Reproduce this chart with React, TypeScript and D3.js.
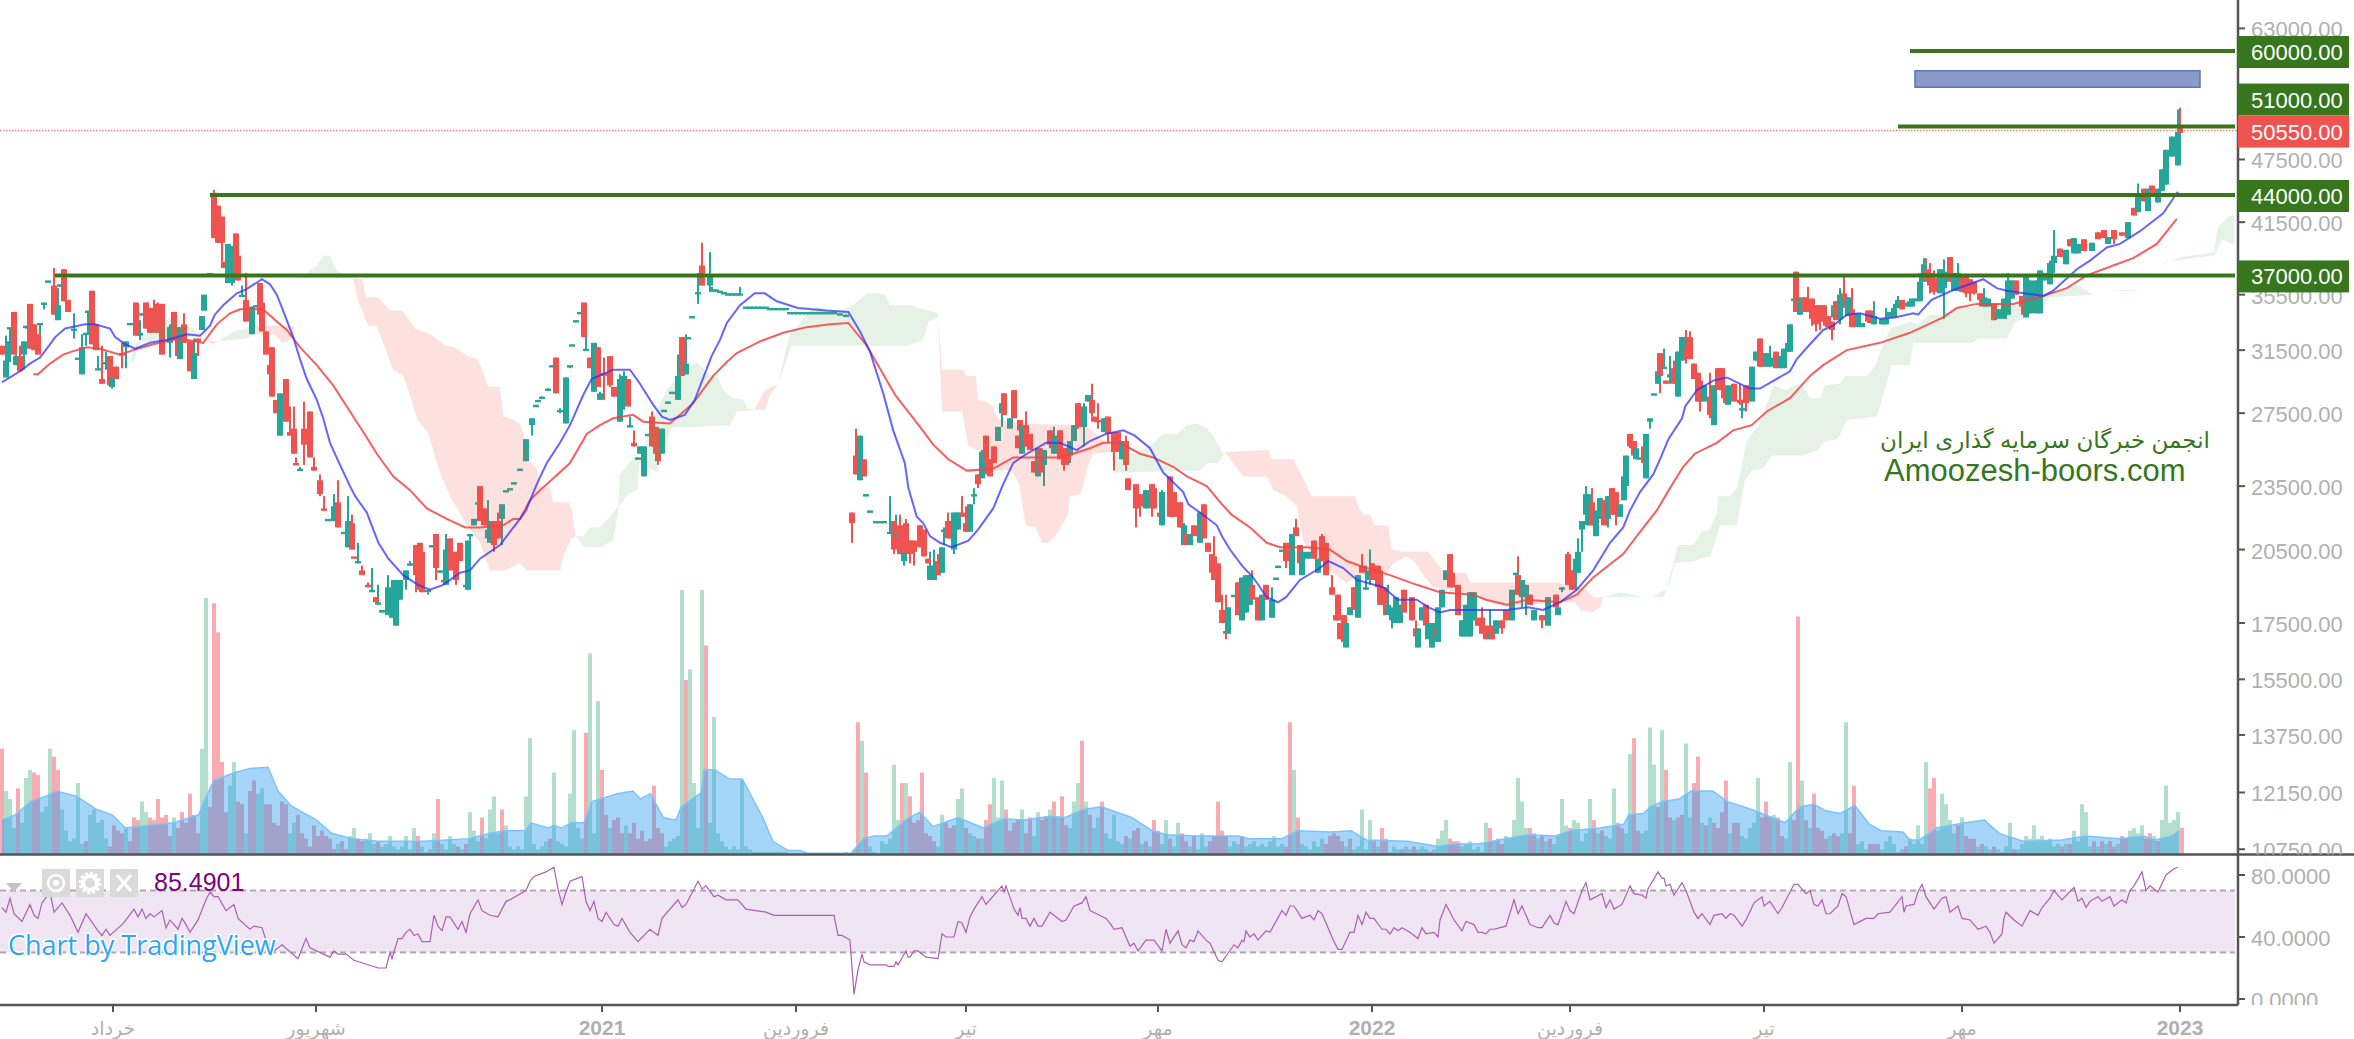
import React, { useEffect, useRef } from 'react';
import * as d3 from 'd3';

// prices below are in hundreds, every five numbers are: bar, open, high, low, close
const candlesSpring = [
  0,318,318,312,312, 1,297,325,297,308, 1.5,307,321,307,321, 2,330,331,320,331, 3,342,342,312,312, 3.5,305,312,305,311,
  4.5,311,318,301,301, 5.5,312,321,302,321, 6,331,332,330,332, 7,348,348,316,316, 8,333,333,315,315, 9,326,326,312,312,
  9.5,333,334,326,334, 10.5,348,349,344,349, 11.5,365,366,365,366, 13,362,376,340,340, 14,336,360,336,347, 14.5,362,363,361,363,
  15.5,375,375,350,350, 16.5,351,351,342,342, 18,329,341,323,330, 19,309,309,309,310, 20,299,326,299,317, 21,326,327,318,327,
  21.5,342,343,326,343, 22.5,358,358,319,319, 23.5,333,333,315,315, 24,302,311,302,303, 25,296,318,293,293, 26,306,314,302,307,
  27,311,311,292,292, 27.5,291,298,290,297, 28.5,304,304,296,296, 30,313,320,303,312, 31,317,321,303,321, 32,333,334,333,334,
  33.5,349,349,325,325, 34.5,325,336,322,327, 35,340,341,340,341, 36,349,349,330,330, 37,345,345,327,327, 38,345,351,327,335,
  39,348,349,327,327, 40,348,348,312,312, 42,320,333,310,331, 43,342,342,322,322, 44,331,331,311,311, 44.5,309,331,309,331,
  45.5,333,341,320,320, 47,321,321,301,301, 48,296,323,296,313, 49,323,323,311,321, 50,329,339,329,339, 50.5,343,355,343,355,
  52,371,372,371,372, 53,442,445,401,401, 54,430,430,397,397, 55,420,420,381,397, 55.5,381,381,376,376, 56.5,364,396,364,396,
  57.5,364,394,362,394, 58.5,405,405,371,371, 59,386,386,366,366, 60,354,362,354,355, 61,351,372,335,335, 62.5,326,346,326,346,
  63.5,346,347,346,347, 64.5,364,364,340,340, 65,349,349,328,328, 66,328,328,312,312, 67,305,305,299,299, 67.5,317,317,285,285,
  68.5,283,283,275,275, 69.5,262,287,262,287, 71,296,296,270,270, 72,264,279,262,262, 73,266,279,252,252, 73.5,247,250,246,246,
  74.5,243,245,243,244, 75.5,266,282,246,257, 77,276,276,250,250, 78,245,250,243,243, 79.5,238,241,230,231, 80.5,224,230,223,223,
];
const candlesSummer = [
  81.5,218,218,218,219, 83,218,231,218,225, 84,227,238,215,215, 85.5,212,212,212,213, 86.5,206,230,206,218, 87.5,217,221,205,205,
  88,202,202,202,201, 89,199,208,199,200, 90,196,198,194,194, 91.5,190,191,189,189, 92.5,187,197,187,188, 93.5,185,185,183,183,
  94,182,190,182,183, 95,179,180,179,180, 96.5,178,194,178,189, 97.5,177,192,177,184, 98.5,174,192,174,192, 99.5,184,192,184,192,
  101,192,196,188,196, 102,198,200,198,199, 103.5,207,207,187,194, 104.5,208,208,188,188, 105,204,204,187,187, 106.5,187,187,186,188,
  107.5,206,207,206,207, 108.5,212,212,192,197, 109.5,195,196,195,196, 110.5,192,192,191,191, 111,190,212,190,205, 112,210,210,196,196,
  113.5,204,204,190,192, 114.5,208,208,200,200, 116,189,189,189,190, 116.5,188,209,188,209, 117,211,212,209,212, 118,216,219,216,219,
  119,226,226,226,227, 119.5,235,235,218,218, 120.5,224,224,216,216, 121.5,210,228,210,214, 122,208,218,208,218, 123,218,218,204,207,
  124,218,222,210,210, 125,219,226,207,226, 126,232,232,232,233, 127,233,233,233,234, 128,236,237,236,237, 129.5,243,244,243,244,
  131,248,260,248,260, 132.5,268,272,262,272, 133.5,279,280,279,280, 134,282,283,282,283, 135,284,285,284,285, 136.5,289,290,289,290,
  137.5,304,305,304,305, 138.5,310,310,287,287, 139.5,276,278,275,277, 141,269,297,269,297, 142,304,304,303,305, 142.5,318,319,318,319,
  143.5,335,336,335,336, 144.5,341,342,341,342, 145.5,349,349,324,324, 146,315,324,315,316, 147,310,310,303,303, 148,288,320,288,320,
  149,317,317,291,291, 149.5,283,288,283,287, 150.5,300,310,283,298, 152,311,311,291,292, 153,291,291,285,285, 154.5,270,299,270,296,
  155.5,282,301,277,298, 156.5,296,296,279,279, 157,267,273,267,268, 158,258,265,256,256, 159,249,250,249,250, 159.5,252,256,252,256,
  160.5,240,256,240,256, 161.5,262,263,262,263, 162.5,273,276,256,256, 163.5,267,267,252,252, 164,258,258,246,248, 165,252,266,252,266,
  165.5,276,277,276,277, 166.5,281,282,281,282, 167.5,287,288,287,288, 169,283,312,283,298, 170,324,324,298,298, 171,299,326,299,306,
  171.5,323,324,323,324, 172.5,338,339,338,339, 174,356,372,348,357, 175,378,397,362,362, 177,362,389,357,370, 177.5,358,361,358,359,
  178.5,358,359,358,359, 179.5,357,358,357,358, 180.5,356,357,356,357, 181.5,355,356,355,356, 182.5,355,356,355,356, 183.5,355,356,355,356,
  184.5,355,361,355,356, 209.5,340,341,340,341, 211,339,340,339,340,
];
// [first bar, last bar, price]: the stretch where the symbol was halted
const haltRuns = [186, 191, 346, 192, 196, 345, 197, 208, 342];
const candlesAfterHalt = [
  212.5,222,222,208,217, 213.5,251,266,241,241, 214.5,238,262,238,262, 215.5,249,249,240,240, 216,230,231,230,231, 217,222,223,222,223,
  218.5,217,217,217,218, 219.5,217,217,217,218, 220.5,217,217,217,218, 222,212,230,212,213, 223,218,218,203,205, 223.5,211,221,208,212,
  224.5,216,221,203,203, 225.5,200,215,198,204, 226,217,219,203,203, 227,209,209,199,203, 228,209,209,198,204, 229.5,216,216,206,206,
  230.5,214,214,202,202, 231.5,201,201,199,199, 232,192,204,192,198, 233,192,205,192,198, 234,200,203,194,194, 235,195,206,195,206,
  235.5,213,215,207,214, 236.5,218,222,210,210, 237.5,218,218,210,210, 238,205,222,203,222, 239,214,222,214,222, 240,222,230,220,220,
  241,217,225,213,213, 242,213,226,213,226, 243,230,234,226,231, 244,241,241,234,236, 245,239,254,239,253, 246,262,262,241,248,
  247,249,249,240,240, 248,256,256,247,247, 249,259,267,259,267, 250,275,281,267,281, 250.5,287,287,274,274, 252,266,272,266,272,
  253,289,289,272,272, 254,262,262,255,255, 254.5,271,271,265,265, 255,252,268,252,268, 256,268,276,256,256, 257,263,263,254,254,
  258,248,248,242,242, 259,240,255,240,255, 259.5,255,255,242,242, 260.5,246,254,235,254, 262,265,265,257,257, 262.5,258,258,255,255,
  263,252,267,252,262, 264.5,265,265,249,249, 265.5,255,255,243,246, 266.5,255,255,246,249, 267,251,259,247,259, 268,259,268,259,268,
  269,281,281,266,267, 269.5,278,278,271,271, 270.5,267,281,256,279, 271.5,282,286,282,286, 272.5,283,293,273,275, 273,273,273,270,270,
  274,271,281,266,270, 275.5,264,272,264,272, 276.5,273,273,258,263, 278,264,264,243,253, 279,264,264,253,253, 280,249,259,249,259,
  281,259,262,243,246, 281.5,239,239,233,233, 283.5,236,236,215,224, 284.5,231,231,220,225, 286,224,233,224,233, 287.5,236,236,220,224,
  288,234,236,224,224, 289.5,222,222,218,220, 290,216,233,216,232, 292,240,240,220,220, 293,232,232,220,220, 294.5,227,227,215,215,
  295.5,207,217,207,216, 296,212,212,207,207, 297,207,212,207,212, 298,216,216,211,211, 299.5,208,222,208,222, 300.5,226,226,210,210,
  301.5,208,208,204,204, 302.5,203,203,195,195, 303,202,211,192,192, 304,199,199,183,183, 305,180,186,175,175, 306,172,186,169,171,
  306.5,171,181,171,181, 308,185,185,185,186, 309,191,191,178,178, 310,176,193,176,193, 311,179,194,179,194, 312,182,194,182,194,
  312.5,190,196,184,184, 314,185,185,176,176, 315,176,186,176,186, 316,190,190,184,184, 317.5,177,189,177,184, 318.5,192,192,192,193,
  319,197,198,197,198, 320,204,204,204,205, 321,208,208,197,200, 322.5,194,212,194,212, 323.5,215,219,211,211, 324.5,207,207,199,199,
  325,194,204,194,204, 326.5,201,204,201,204, 328,209,209,201,201, 329,195,201,195,201, 330,211,212,200,200, 331,208,208,194,194,
  332.5,189,194,186,186, 333.5,178,178,176,176, 334,186,186,176,176, 334.5,175,175,169,169, 335.5,178,178,168,168, 336,166,175,166,175,
  337,178,181,178,181, 338,189,189,180,180, 339,177,194,177,194, 340,198,203,195,195, 341,188,198,188,189, 342,192,205,190,196,
  342.5,199,199,192,192, 344,198,198,189,189, 344.5,196,196,182,182, 345.5,189,189,178,182, 346.5,178,190,178,182, 347.5,176,181,173,180,
  348.5,175,185,175,185, 349.5,175,182,175,182, 350.5,188,188,179,179, 352.5,185,185,176,176, 353.5,173,176,170,170, 354,166,173,166,173,
  355,176,181,176,181, 356,182,182,174,174, 356.5,169,175,169,175, 357.5,166,175,166,175, 358.5,173,173,170,170, 359,168,181,168,181,
  360,181,188,181,188, 361,192,196,192,196, 362,203,203,189,189, 362.5,195,195,189,189, 364,190,190,178,178, 365,170,176,170,176,
  366,170,182,170,182, 367,170,187,170,187, 368,176,187,176,187, 369,177,177,174,174, 370,177,181,171,171, 371,174,174,169,169,
  372,169,180,169,171, 372.5,174,174,169,169, 373.5,171,176,171,176, 375,176,176,171,173, 376,180,180,176,176, 377.5,176,188,176,188,
  378.5,194,195,194,195, 379,194,202,186,186, 380,185,192,181,192, 381,185,190,178,190, 382,186,186,182,182, 383,176,180,176,180,
  385,178,178,173,176, 386.5,174,185,174,185, 388.5,186,186,181,181, 389,178,181,178,181,
];
const candlesRally = [
  390,188,189,187,189, 391.5,203,204,190,190, 392.5,196,196,188,188, 393.5,195,201,188,201, 394,195,210,195,204, 395,214,218,204,218,
  396,221,235,221,231, 396.5,216,231,216,231, 397.5,227,234,216,216, 398.5,211,223,211,223, 399.5,219,229,219,229, 400.5,228,228,216,216,
  401.5,219,230,215,230, 402.5,234,234,221,221, 403.5,232,232,216,221, 404.5,220,226,220,226, 405.5,228,240,228,240, 406,235,251,235,251,
  407,263,263,255,256, 408,259,259,250,251, 408.5,249,255,249,255, 409.5,249,250,249,250, 410.5,256,256,247,247, 411,239,263,239,263,
  412,270,272,266,272, 413,286,287,286,287, 414,293,301,293,301, 414.5,313,313,287,298, 415.5,303,316,303,304, 416,295,295,293,293,
  417,297,311,293,299, 418,303,308,293,293, 419,285,314,285,314, 420,308,324,308,324, 421,316,329,306,309, 422,324,328,309,309,
  423,306,306,296,296, 424,300,300,282,282, 424.5,295,295,276,282, 425.5,282,292,282,292, 427,285,300,272,274, 428,268,292,268,292,
  429,303,303,289,289, 430,303,303,289,289, 430.5,291,291,281,284, 431.5,280,292,280,292, 433,293,293,282,282, 434.5,283,293,280,281,
  435,277,283,272,278, 436,292,292,276,281, 437.5,282,304,282,304, 438.5,308,314,308,314, 439.5,323,323,304,304, 440,310,310,304,304,
  441,304,313,304,313, 442,304,318,304,310, 443.5,314,314,303,303, 444.5,303,311,303,311, 445.5,303,316,303,316, 446.5,314,320,314,320,
  447,314,333,314,333, 448,351,352,351,352, 448.5,373,373,342,342, 449.5,340,353,340,352, 450.5,353,353,342,342, 451.5,351,361,342,342,
  452.5,352,352,332,337, 453.5,347,347,328,333, 454.5,347,347,329,335, 455.5,347,347,332,339, 456.5,339,339,331,331, 457.5,335,335,322,329,
  458,338,347,338,347, 458.5,350,350,336,336, 459.5,337,360,333,355, 460.5,356,370,345,352, 461.5,339,353,339,353, 462.5,344,360,331,331,
  464,331,341,331,341, 465,331,334,331,334, 466.5,343,343,335,335, 467,343,343,334,334, 468,333,350,333,339, 470,333,337,333,337,
  471,333,345,333,337, 472,338,342,338,342, 473,338,348,338,345, 474,345,354,345,351, 475,351,351,344,344, 476.5,346,350,346,349,
  477.5,346,352,346,352, 478.5,350,352,350,352, 479.5,350,372,350,365, 480.5,365,384,365,379, 481,375,384,366,366, 482,372,380,356,362,
  483,368,374,355,357, 484,363,363,358,358, 484.5,356,375,356,375, 485.5,360,383,337,373, 487,385,385,365,365, 488,358,372,358,372,
  489,358,380,358,372, 490,371,371,357,357, 491,371,371,353,356, 492,367,367,350,356, 493,365,365,355,356, 494.5,356,356,346,351,
  495.5,346,360,346,353, 496.5,346,352,346,352, 498,348,348,336,336, 499,337,344,337,344, 500.5,337,352,337,352, 501.5,340,372,340,366,
  502.5,352,366,352,366, 503.5,366,366,355,355, 505,354,354,340,346, 506,338,370,338,370, 507,341,366,341,366, 508.5,341,366,341,366,
  509.5,341,374,341,374, 510.5,366,372,366,372, 512,363,382,363,380, 513,380,408,372,386, 514.5,392,392,385,385, 516,379,391,379,391,
  517,400,400,394,394, 518,388,401,388,401, 519,388,396,388,396, 520.5,400,400,390,390, 522.5,390,397,390,397, 524,406,406,400,400,
  525.5,408,408,401,401, 526.5,396,402,396,402, 528,408,408,396,400, 530,406,406,403,403, 531.5,401,415,401,415, 533,428,428,421,421,
  534,424,451,424,440, 535.5,446,446,434,434, 536.5,425,446,425,446, 537.5,449,449,439,439, 539,433,446,433,446, 540,444,465,444,465,
  541,450,485,450,485, 542.5,478,499,478,499, 544,469,529,469,504, 544.5,510,531,503,503,
];

// signed relative volume per bar, negative marks a falling bar
const volumeBars = [
  -40,24,21,10,-25,12,29,32,-31,-30,16,18,40,-37,-32,17,9,5,6,27,4,-5,15,17,12,
  13,6,-3,-11,-9,-8,10,-5,-14,-13,20,16,-14,-13,-21,-14,-15,-7,14,-10,-16,-12,-23,-15,-8,
  40,97,-18,-95,-84,-35,-16,26,35,-20,-19,8,-24,-28,23,25,-19,-19,-12,-11,-20,-19,8,12,-15,
  -8,-6,-3,-11,-7,-9,-7,-6,-2,4,-5,-2,7,10,-6,-5,6,8,4,-5,3,4,7,3,2,
  3,7,2,10,-7,3,1,2,8,-21,4,2,7,4,-3,2,-4,16,9,5,-14,6,17,22,8,
  -17,11,3,2,3,2,22,44,4,2,3,5,-6,31,5,4,3,23,47,10,6,-46,76,8,58,
  -32,-15,10,-13,-14,-8,11,-8,-12,-6,-9,-5,-6,-26,-10,-8,3,5,6,7,100,-66,70,27,10,
  100,-79,12,52,8,5,3,2,3,2,28,3,2,1,1,1,1,1,1,1,1,1,0,0,0,
  0,0,0,0,0,0,0,0,0,0,0,1,0,2,-50,43,-31,3,1,0,5,4,6,34,13,
  -27,27,-22,-12,-13,-31,-8,-7,-5,3,15,-12,-10,-11,21,25,-10,8,7,-6,6,-13,-19,29,14,
  28,-17,-9,-12,-13,17,-8,-14,7,16,-13,-14,17,-20,14,-22,-11,10,20,27,-43,20,-15,10,14,
  -20,8,6,15,5,4,-7,6,-9,-10,4,-5,3,-13,-9,4,13,-6,3,12,-8,-5,3,-7,2,
  8,3,-5,-7,-20,-9,-7,3,5,4,-7,3,4,5,3,4,3,5,7,3,4,-3,-50,32,-14,
  4,3,2,5,3,6,-4,-7,-8,-7,-5,3,-6,2,3,17,2,13,-5,3,-10,-6,1,3,2,
  -2,3,2,-3,2,3,2,-1,2,6,9,13,-6,-5,-5,3,4,5,2,3,1,12,-10,5,-6,
  -4,7,6,13,29,20,10,-10,-8,6,-7,5,-6,4,7,21,11,-10,13,12,5,8,21,-13,8,
  -9,7,6,25,-12,-10,8,38,-44,-9,8,9,48,34,-18,47,-32,-14,13,-14,-15,42,14,-27,-37,
  12,-11,14,-12,-10,-16,-28,8,-12,-12,7,6,10,12,29,-14,-20,-14,15,-14,-7,6,35,-13,-90,
  28,-13,10,-23,-10,-9,-6,7,-8,-7,8,50,-8,-26,4,5,2,-4,-4,-4,2,5,7,4,1,
  2,-3,6,4,11,4,35,-25,-29,9,23,19,13,8,-11,14,-7,-6,-6,3,-4,3,2,-3,2,
  1,3,12,-2,2,4,7,6,11,6,7,5,6,3,4,-3,4,-4,9,5,19,16,3,-5,3,
  -5,4,-5,-3,4,-7,-6,9,10,8,11,-6,-8,7,-5,13,26,12,13,16,-10,
];
// [bar, relative volume]
const volumeAverage = [
  [0,13],[3.3,15],[7.2,20],[11,22],[13.5,24],[18.6,22],[23.7,17],[27.6,15],[30.8,10],[36.5,11],[42.9,12],[49.2,15],[50.5,20],[53,28],
  [58.2,31],[62,32.5],[66.5,33],[69,24],[72.2,18.5],[78.6,13],[82.4,8],[87.5,6],[93.9,5],[105.4,5],[116.8,6],[122,8],[125.8,9],[130.9,9],
  [132.2,12],[136.6,10],[137.9,11],[139.8,10],[142.4,12],[145.5,12],[147.5,20],[153.8,23],[157.7,24],[159.6,21],[162.1,23],[165.3,14],
  [168.5,13],[169.8,18],[174.9,23.5],[175.5,32],[178.1,32],[181.9,28.5],[185.1,28.5],[187,23],[190.2,14],[192.7,5],[196.6,1.5],[199.5,1.5],
  [201.4,0.5],[212.3,0.5],[215.4,6],[218,7],[221.2,7],[226.3,13.5],[229.5,16],[232.7,10.5],[239,14],[245.4,10],[247.3,11.5],[250.5,13.5],
  [255.6,13],[262,14.5],[265.8,14],[270.3,17],[274.8,18],[282.4,14],[287.5,9],[291.3,7.5],[299,7],[309.2,7],[311.7,6],[320,6],[323.9,9],
  [332.2,8.5],[337.3,9],[341.1,5.5],[351.3,5],[359,3],[362.8,4],[369.1,4],[374.2,5.5],[381.9,7.5],[388.3,7],[392.1,9],[399.5,10],[405.5,11.5],
  [406.7,15],[410.3,15.5],[412.1,18],[415.1,20],[419.3,21],[422.3,24],[427.7,24],[431.4,20],[435.6,18],[439.2,16],[445.8,12],[449.4,18],
  [453,19],[456,16.5],[459.6,15.5],[463.2,18.5],[466.8,11.5],[469.8,9],[475.2,8.5],[477,5.5],[479.4,5.5],[483.6,10],[490.8,12],[495.6,13],
  [499.3,8],[505.3,5],[514.9,5.5],[520.9,7],[529.3,6],[535.3,7],[538.3,5.5],[542.5,7],[544.3,9],
];

// [bar, price in hundreds]
const fastAverage = [
  [0,294],[2,297],[4.5,301],[7,306],[9.5,310],[12,319],[13.3,324],[15.8,330],[20.8,333],[23.3,333],[27,330],[28.3,324],[30.8,319],[33.3,316],
  [37,320],[41.2,322],[46.2,326],[49.5,325],[52,332],[53.2,340],[55.3,347],[58.7,356],[61,359],[65,367],[67,363],[68.7,355],[70.4,342],
  [72.8,324],[74.5,309],[76.2,296],[78.7,283],[80.3,272],[82,258],[84.5,246],[87,235],[88.3,230],[91.2,222],[94.1,208],[96.6,201],[100.3,194],
  [104,190],[107,188],[110.3,190],[114.5,195],[117,196],[119.5,201],[124.5,207],[127,213],[129.5,219],[131,223],[133.7,236],[136.2,247],
  [139.5,258],[142,268],[145.3,286],[147.4,296],[152.8,302],[157,302],[159.5,293],[162.8,280],[165,273],[167,271],[170.7,274],[173.2,283],
  [177.4,311],[179.5,322],[181.2,334],[184.5,347],[188.2,356],[190.7,356],[193.7,350],[199,345],[206,343],[211.6,342],[214.5,328],[217,314],
  [220.3,287],[222.8,265],[225.7,247],[226.6,234],[228.7,220],[230.3,217],[232,211],[234.5,208],[237.4,206],[241.6,209],[244,214],[247.8,224],
  [250.3,236],[252.8,247],[256.2,252],[259.5,256],[261,258],[264.5,258],[268.7,254],[272,259],[276,263],[280.3,265],[283.2,262],[287,255],
  [290.3,242],[295.3,232],[296.6,226],[299.5,222],[303.7,216],[305,211],[307,205],[310,198],[312.8,193],[316.2,185],[319,183],[321,185],
  [324.5,192],[329.5,197],[331.6,200],[335.3,197],[338.7,192],[345.3,189],[349,184],[353.7,184],[356.6,181],[359.5,179],[362,180],[376,180],
  [381.5,181],[385.3,180],[389.5,183],[393.7,188],[397.8,196],[402,208],[405.3,215],[407,223],[409.5,232],[412.8,241],[414.5,249],[416.6,260],
  [420,272],[420.8,279],[423.7,289],[427.8,295],[431.2,297],[437,290],[439.5,290],[447,301],[448.7,309],[452,319],[455.3,329],[457.8,332],
  [461.2,340],[464.5,341],[469.5,337],[473.2,338],[477.8,341],[479,340],[482.4,351],[487.4,358],[495.3,367],[498.7,360],[501.2,358],[510.3,354],
  [512.8,358],[518.7,375],[522,382],[526.2,393],[529.5,396],[534.5,407],[540.3,423],[543.2,439],[544,443],
];
const slowAverage = [
  [7.8,299],[9,299],[12,306],[15.3,312],[17.4,314],[21.2,317],[24.5,316],[29.5,312],[32.8,315],[37.8,319],[44.5,323],[50.3,320],[53.7,333],
  [57,341],[59.5,344],[65.3,344],[68.7,335],[71.2,329],[74.5,317],[78.7,305],[82.8,292],[87,276],[91.2,261],[93.7,252],[97.8,240],[102,233],
  [106.2,224],[111.2,219],[115.8,215],[119.5,215],[125.3,216],[127.8,219],[129.5,219],[132,228],[134.5,233],[136.2,236],[142,247],[146.2,263],
  [149.5,268],[152.8,272],[157.8,274],[160.3,270],[167,269],[172.8,281],[177.8,298],[181.2,307],[183.7,313],[189.5,321],[195.3,327],[201.2,331],
  [207,333],[211.6,334],[216.2,318],[220.3,299],[223.3,286],[226.2,277],[229.5,267],[232.8,257],[236.6,249],[241.2,243],[247.8,244],[250.3,247],
  [252.8,250],[259.5,250],[263.7,250],[267.8,252],[272,255],[275.3,258],[279.5,258],[284.5,252],[287.8,250],[292.8,245],[296.2,240],[301.2,235],
  [305,226],[307.4,221],[312,215],[316.2,208],[319.5,206],[326.2,206],[332,205],[336.2,200],[339.5,198],[347,194],[353.7,190],[359.5,187],
  [367.8,186],[371,184],[376.2,182],[381.2,184],[389.5,183],[393.7,186],[397.8,193],[405.3,203],[408.7,211],[413.7,223],[417,234],[420.3,245],
  [423.2,252],[428.7,258],[432.8,265],[437.4,268],[441.2,276],[447,284],[452,298],[455.3,305],[461.2,315],[469.5,320],[477,327],[485.3,338],
  [488.7,345],[493.7,348],[502.8,348],[510.3,354],[516.2,360],[521.2,370],[527.8,378],[532.8,384],[538.7,396],[543.7,418],
];

// cloud pieces: [upper edge, lower edge], each edge as [bar, price in hundreds]
const greenClouds = [
  [[[32,306],[33.25,318],[34.5,323],[38.7,331],[42,337],[44.5,337],[47,331],[49.5,326],[51,322]],
   [[32,306],[33,308],[34.5,321],[42,321],[44.5,324],[47,324],[51,322]]],
  [[[54,321],[58,328],[61,330],[62,332],[63.5,332]], [[54,321],[61,323],[63,326],[63.5,332]]],
  [[[73.5,333],[74.5,368],[78.7,378],[80.3,386],[82,386],[83.7,374],[87.8,368]], [[73.5,333],[74.5,368],[87.8,368]]],
  [[[143.3,211],[145.3,211],[147,215],[149.5,215],[152,220],[154.5,226],[156.6,231],[158.8,233],[159.5,249],[161.2,260],[162.4,270],[166.2,289],
    [167.8,294],[171.2,302],[173.7,307],[176.2,300],[179,297],[180.3,289],[182.8,284],[185.3,283],[186.2,278],[188.7,277]],
   [[143.3,211],[145.7,206],[149.5,206],[152.8,209],[154,222],[154.5,241],[158.2,251],[160.3,247],[163.7,242],[164.5,249],[167.4,267],[172.8,267],
    [182,268],[183.7,276],[188.7,277]]],
  [[[194,293],[196.2,318],[197.4,329],[198.7,331],[201.2,341],[203.7,346],[207,343],[209.5,343],[212.8,347],[216.2,356],[218.7,356],[220.8,355],
    [222,347],[227.8,347],[228.7,345],[231.6,343],[234,341]],
   [[194,293],[197.4,318],[226.2,318],[230.3,322],[231.6,335],[234,338]]],
  [[[278,252],[283,252],[287.4,257],[290.3,263],[293.7,263],[296.2,268],[298.7,269],[301.2,266],[302.8,262],[305.3,252]],
   [[278,242],[299.5,243],[301.6,247],[304,247],[305.7,253]]],
  [[[400.3,185],[404.5,187],[407.8,186],[410.3,185],[412.8,185],[414.5,187],[416.2,188],[417.4,196],[419,207],[422.8,207],[424.9,213],[427,214],
    [428.7,222],[429,230],[432,230],[433.7,234],[436.2,259],[439.5,269],[441.6,283],[442.8,292],[446.2,289],[447.8,292],[450,293],[452,284],
    [454.5,284],[455.8,292],[459.5,293],[460.8,298],[466.2,298],[468.2,304],[469.5,313],[472,330],[477,335],[479,333],[482,340],[485.3,340],
    [488.7,345],[494.5,346],[497.8,348],[504.5,348],[511,354],[518.7,363],[522.8,355]],
   [[400.3,185],[415.3,185],[416.6,189],[418.2,199],[423.2,200],[424.5,201],[427,202],[428.7,211],[429.5,216],[433.7,216],[435.7,238],[437.4,243],
    [440.3,244],[442.4,251],[450.3,251],[454,254],[455.8,259],[459,260],[461.2,271],[468.7,273],[469.5,279],[472.4,305],[477,305],[477.8,320],
    [492.8,320],[494,323],[501.2,323],[503.2,334],[510.3,346],[512,353],[522.8,355]]],
  [[[535,371],[539,378],[545,385],[553,389],[554,411],[557,421],[558,421]], [[535,371],[539,378],[541,381],[550,385],[553,386],[555,400],[558,395]]],
];
const pinkClouds = [
  [[[51,322],[54,321]], [[52.5,319],[54,321]]],
  [[[63.5,332],[73,332]], [[63.5,326],[68,326],[70,320],[72,322],[73,326]]],
  [[[87.8,368],[90,367],[91,353],[94,353],[97,343],[100,343],[103.3,330],[107,326],[111,318],[113,317],[117,310],[119,309],[121.6,291],[124.5,291],
    [125.3,273],[127,272],[129.5,269],[130.3,263],[131.6,249],[133.7,244],[134.5,235],[137,235],[137.8,227],[141.6,227],[142.6,223],[143.3,211]],
   [[87.8,368],[89,350],[91.6,332],[93.7,332],[97.8,302],[100.3,298],[101.6,289],[103.7,272],[106.6,263],[109.5,242],[112,230],[116.2,216],[119.5,208],
    [122,196],[125.3,196],[127,197],[129.5,199],[131.2,196],[139.5,196],[140.3,202],[142.4,210],[143.3,211]]],
  [[[188.3,278],[190.7,289],[194,293]], [[188.3,277],[190.7,277],[192,286],[194,293]]],
  [[[234,339],[235,302],[240.3,302],[241,298],[243.5,298],[244,283],[246,282],[247.7,279],[249,271],[255.4,269],[268.4,268],[271,268],[278,254]],
   [[234,339],[235,276],[240,276],[241.6,256],[244,254],[248,243],[252.4,243],[254.3,236],[255.9,216],[258.4,215],[260,208],[261.4,208],[263.3,211],
    [266.5,221],[267,230],[269.7,231],[271.6,246],[272.8,252],[277.3,253],[278,243]]],
  [[[305.7,253],[316.6,254],[317.4,249],[322.8,249],[325.3,239],[327.4,230],[338.3,230],[339,225],[340.3,221],[342,221],[343.2,216],[346.6,216],
    [347.4,205],[350,204],[356.6,204],[358.7,199],[360.8,195],[366,195],[367,191],[388.7,191],[396,188],[398,185],[400.3,185]],
   [[305.7,253],[310.3,240],[312.8,240],[316.2,240],[317.8,233],[321,230],[323.7,225],[325.3,209],[327.4,203],[332,196],[336,191],[339.5,194],
    [346.2,195],[347.8,199],[351,202],[353,200],[355.3,194],[357.8,189],[361,188],[367,186],[376,181],[389.5,183],[393.2,183],[394.5,180],
    [397.4,179],[399.5,181],[400.3,185]]],
  [[[528,358],[531,359],[534,358]], [[528,358],[534,358]]],
];

// [bar, RSI]
const rsiPoints = [
  [0,59],[1,56],[2,65],[3,55],[5,50],[7,61],[8,54],[9,52],[10,62],[12,69],[13,56],[15,62],[17,54],[19,43],[21,55],[24,44],[25,41],[26,45],[27,41],
  [30,48],[31,51],[33,58],[34,53],[35,58],[36,52],[37,55],[38,53],[40,57],[41,46],[42,51],[44,45],[45,52],[46,48],[47,43],[49,51],[51,64],[52,69],
  [53,66],[54,66],[56,57],[58,61],[59,52],[62,45],[63,47],[65,46],[66,38],[68,31],[70,35],[74,26],[76,39],[77,33],[82,27],[83,31],[84,29],[86,29],
  [88,25],[94,20],[96,20],[97,30],[97.5,26],[99,39],[100,39],[101,43],[102,45],[103,41],[104,42],[105,37],[107,37],[108,54],[109,47],[110,44],[111,53],
  [112,53],[114,45],[115,50],[116,43],[117,55],[119,64],[120,57],[122,54],[124,53],[126,63],[127,64],[131,70],[132,76],[133,79],[136,82],[138,85],
  [139,71],[140,61],[141,69],[142,76],[144,78],[145,79],[146,63],[147,57],[148,63],[149,52],[150,50],[151,56],[153,48],[154,47],[155,52],[157,43],
  [159,37],[162,45],[164,41],[165,52],[169,64],[170,59],[171,61],[174,76],[175,71],[176,73],[178,66],[179,67],[181,64],[184,64],[186,58],[191,56],
  [193,54],[200,54],[208,54],[209,41],[210,41],[212,38],[213,3],[214,19],[215,29],[215.5,24],[217,22],[221,22],[221.5,21],[223,21],[223.5,24],[224,22],
  [226,31],[226.5,27],[227,27],[228,31],[229,31],[231,27],[234,26],[235,42],[236,40],[238,40],[239,50],[240,49],[241,43],[242,53],[243,58],[245,66],
  [246,61],[250,73],[250.5,69],[251,73],[253,58],[254,54],[254.5,59],[255,52],[256,52],[257,47],[258,52],[259,47],[260,47],[262,56],[265,50],[266,51],
  [268,60],[270,62],[271,66],[272,57],[276,52],[277,49],[278,45],[280,46],[282,34],[283,36],[284,31],[286,38],[288,38],[290,31],[291,45],[292,36],
  [294,44],[295,35],[296,33],[297,38],[298,37],[299,44],[301,38],[302,36],[304,25],[305,24],[308,35],[309,33],[310,38],[310.5,37],[311,44],[312,40],
  [313,42],[314,38],[316,44],[317,43],[320,57],[321,54],[322,60],[323,60],[325,52],[327,54],[328,51],[329,57],[330,55],[333,37],[334,32],[335,32],
  [337,43],[338,43],[339,54],[340,48],[341,56],[342,52],[343,52],[345,45],[346,45],[347,42],[348,46],[349,44],[350,46],[352,43],[354,39],[355,46],
  [356,42],[358,43],[359,40],[359.5,51],[361,61],[363,51],[365,44],[366,50],[368,48],[369,43],[370,43],[371,42],[372,45],[373,45],[376,47],[378,64],
  [379,55],[380,60],[381,54],[382,48],[384,46],[385,46],[387,54],[388,49],[389,48],[391,63],[392,57],[393,55],[395,70],[396,75],[397,64],[400,68],
  [401,59],[402,64],[403,58],[405,61],[407,73],[408,68],[410,67],[411,65],[411.5,71],[414,82],[415,78],[415.5,78],[416,73],[417,74],[418,67],[420,75],
  [421,70],[422,63],[423,56],[424,52],[425,55],[427,48],[428,54],[430,55],[431,52],[432,55],[433,54],[435,47],[436,51],[438,62],[440,66],[440.5,60],
  [442,63],[444,55],[445,59],[448,74],[449,74],[451,68],[452,70],[453,61],[454,60],[455,64],[456,55],[457,55],[459,60],[460,68],[461,66],[463,48],
  [466,52],[468,52],[469,55],[472,56],[475,66],[475.5,56],[476,60],[478,61],[479,69],[480,74],[481,66],[483,58],[485,65],[486,66],[487,56],[489,60],
  [490,52],[492,51],[494,45],[496,47],[497,43],[498,36],[500,42],[500.5,52],[501,56],[503,51],[505,47],[507,57],[509,54],[510,59],[512,65],[513,70],
  [515,64],[518,72],[519,63],[520,65],[521,59],[522,63],[524,66],[525,63],[527,66],[528,60],[530,64],[531,62],[532,70],[533,73],[535,82],[536,70],
  [537,73],[539,69],[541,80],[543,84],[544,85],
];

const priceTicks = [63000, 47500, 41500, 35500, 31500, 27500, 23500, 20500, 17500, 15500, 13750, 12150, 10750];
const rsiTicks = [80, 40, 0];
const rsiBand = [70, 30];
const levelPrices = [60000, 51000, 44000, 37000];
const levelStartBars = [477, 474, 52, 13.25];
const lastPrice = 50550;
const rsiLast = '85.4901';
const zoneBars = [478.25, 549.5];
const zonePrices = [57500, 55500];
const timeTickBars = [27.75, 78.5, 150, 198.5, 241, 289, 342.5, 392, 440.5, 490, 544.5];
const timeTickLabels = ['خرداد', 'شهریور', '2021', 'فروردین', 'تیر', 'مهر', '2022', 'فروردین', 'تیر', 'مهر', '2023'];

const UP = '#26a69a';
const DOWN = '#ef5350';
const LEVEL = '#38761d';
const AXIS = '#555555';
const LABEL = '#b0b0b0';
const FONT = '"Liberation Sans", "DejaVu Sans", sans-serif';

const App: React.FC = () => {
  const svgRef = useRef<SVGSVGElement>(null);

  useEffect(() => {
    if (!svgRef.current) return;
    const svg = d3.select(svgRef.current);
    svg.selectAll('*').remove();

    const paneRight = 2235;
    const axisX = 2238;
    const mainBottom = 854.5;
    const rsiBottom = 1005;

    const x = d3.scaleLinear().domain([0, 545]).range([2, 2182]);
    const y = d3.scaleLog().domain([44000, 17500]).range([195, 623]);
    const yVol = d3.scaleLinear().domain([0, 100]).range([mainBottom, 590]);
    const yRsi = d3.scaleLinear().domain([0, 80]).range([999, 875]);
    const py = (p: number) => y(p * 100);

    const defs = svg.append('defs');
    defs.append('clipPath').attr('id', 'main-axis').append('rect').attr('x', axisX).attr('y', 0).attr('width', 116).attr('height', mainBottom);
    defs.append('clipPath').attr('id', 'rsi-axis').append('rect').attr('x', axisX).attr('y', mainBottom).attr('width', 116).attr('height', rsiBottom - mainBottom);

    // volume
    const volG = svg.append('g');
    volG.selectAll('rect').data(volumeBars).enter().append('rect')
      .attr('x', (_, i) => Math.round(x(i)) - 2)
      .attr('width', 4)
      .attr('y', d => yVol(Math.abs(d)))
      .attr('height', d => mainBottom - yVol(Math.abs(d)))
      .attr('fill', d => (d < 0 ? '#f8abb0' : '#b2dfcb'));

    const volArea = d3.area<number[]>().x(d => x(d[0])).y0(mainBottom).y1(d => yVol(d[1]));
    const volLine = d3.line<number[]>().x(d => x(d[0])).y(d => yVol(d[1]));
    svg.append('path').datum(volumeAverage).attr('d', volArea).attr('fill', 'rgba(33,150,243,0.4)');
    svg.append('path').datum(volumeAverage).attr('d', volLine).attr('fill', 'none').attr('stroke', '#7cc4f8').attr('stroke-width', 1.5);

    // candles
    const candles: number[][] = [];
    [candlesSpring, candlesSummer, candlesAfterHalt, candlesRally].forEach(list => {
      d3.range(0, list.length, 5).forEach(i => candles.push(list.slice(i, i + 5)));
    });
    d3.range(0, haltRuns.length, 3).forEach(i => {
      d3.range(haltRuns[i], haltRuns[i + 1] + 1).forEach(b => {
        candles.push([b, haltRuns[i + 2], haltRuns[i + 2], haltRuns[i + 2], haltRuns[i + 2]]);
      });
    });
    const candleG = svg.append('g');
    const colorOf = (d: number[]) => (d[4] >= d[1] ? UP : DOWN);
    candleG.selectAll('.wick').data(candles).enter().append('rect')
      .attr('class', 'wick')
      .attr('x', d => Math.round(x(d[0])) - 1)
      .attr('width', 2)
      .attr('y', d => py(d[2]))
      .attr('height', d => py(d[3]) - py(d[2]))
      .attr('fill', colorOf);
    candleG.selectAll('.body').data(candles).enter().append('rect')
      .attr('class', 'body')
      .attr('x', d => Math.round(x(d[0])) - 3)
      .attr('width', 6)
      .attr('y', d => py(Math.max(d[1], d[4])))
      .attr('height', d => Math.max(2.4, Math.abs(py(d[1]) - py(d[4]))))
      .attr('fill', colorOf);

    // ichimoku cloud on top of the candles
    const edge = d3.line<number[]>().x(d => x(d[0])).y(d => py(d[1]));
    const drawClouds = (pieces: number[][][][], fill: string) => {
      svg.append('g').selectAll('path').data(pieces).enter().append('path')
        .attr('d', d => edge([...d[0], ...[...d[1]].reverse()]) + 'Z')
        .attr('fill', fill);
    };
    drawClouds(greenClouds, 'rgba(76,160,70,0.14)');
    drawClouds(pinkClouds, 'rgba(244,67,54,0.16)');

    // moving averages
    svg.append('path').datum(slowAverage).attr('d', edge).attr('fill', 'none')
      .attr('stroke', 'rgba(244,67,67,0.85)').attr('stroke-width', 2);
    svg.append('path').datum(fastAverage).attr('d', edge).attr('fill', 'none')
      .attr('stroke', 'rgba(50,50,255,0.75)').attr('stroke-width', 2);

    // last price, levels and the target zone
    svg.append('line').attr('x1', 0).attr('x2', axisX).attr('y1', y(lastPrice)).attr('y2', y(lastPrice))
      .attr('stroke', '#ef5350').attr('stroke-opacity', 0.7).attr('stroke-width', 1.5).attr('stroke-dasharray', '1.5 1.5');
    levelPrices.forEach((p, i) => {
      svg.append('line').attr('x1', x(levelStartBars[i])).attr('x2', paneRight).attr('y1', y(p)).attr('y2', y(p))
        .attr('stroke', LEVEL).attr('stroke-width', 4);
    });
    svg.append('rect')
      .attr('x', x(zoneBars[0])).attr('width', x(zoneBars[1]) - x(zoneBars[0]))
      .attr('y', y(zonePrices[0])).attr('height', y(zonePrices[1]) - y(zonePrices[0]))
      .attr('fill', '#8a9bca').attr('stroke', '#5b74bd').attr('stroke-width', 1.5);

    // watermark
    svg.append('text').attr('x', 2210).attr('y', 448).attr('direction', 'rtl')
      .attr('font-family', FONT).attr('font-size', 23).attr('fill', LEVEL)
      .attr('text-anchor', 'start').text('انجمن خبرگان سرمایه گذاری ایران');
    svg.append('text').attr('x', 1884).attr('y', 481)
      .attr('font-family', FONT).attr('font-size', 31).attr('fill', LEVEL).text('Amoozesh-boors.com');

    // RSI pane
    svg.append('rect').attr('x', 0).attr('width', paneRight).attr('y', yRsi(rsiBand[0]))
      .attr('height', yRsi(rsiBand[1]) - yRsi(rsiBand[0])).attr('fill', '#f0e5f2');
    rsiBand.forEach(v => {
      svg.append('line').attr('x1', 0).attr('x2', paneRight).attr('y1', yRsi(v)).attr('y2', yRsi(v))
        .attr('stroke', '#b0a8b0').attr('stroke-width', 2).attr('stroke-dasharray', '6 4');
    });
    const rsiLine = d3.line<number[]>().x(d => x(d[0])).y(d => yRsi(d[1]));
    svg.append('path').datum(rsiPoints).attr('d', rsiLine).attr('fill', 'none')
      .attr('stroke', '#ad5fb2').attr('stroke-width', 1.2);

    // legend buttons of the RSI study
    svg.append('path').attr('d', 'M6 883 L22 883 L14 892 Z').attr('fill', '#c4c4c4');
    [42, 76, 110].forEach((bx, i) => {
      const g = svg.append('g').attr('transform', `translate(${bx},869)`);
      g.append('rect').attr('width', 28).attr('height', 28).attr('fill', '#dadada');
      if (i === 0) {
        g.append('circle').attr('cx', 14).attr('cy', 14).attr('r', 8).attr('fill', 'none').attr('stroke', '#fff').attr('stroke-width', 2.5);
        g.append('circle').attr('cx', 14).attr('cy', 14).attr('r', 3).attr('fill', '#fff');
      } else if (i === 1) {
        g.append('circle').attr('cx', 14).attr('cy', 14).attr('r', 7).attr('fill', 'none').attr('stroke', '#fff').attr('stroke-width', 4);
        g.append('circle').attr('cx', 14).attr('cy', 14).attr('r', 10).attr('fill', 'none').attr('stroke', '#fff').attr('stroke-width', 2.5).attr('stroke-dasharray', '3 2.2');
      } else {
        g.append('path').attr('d', 'M7 6 L21 22 M21 6 L7 22').attr('stroke', '#fff').attr('stroke-width', 3);
      }
    });
    svg.append('text').attr('x', 154).attr('y', 891).attr('font-family', FONT).attr('font-size', 25)
      .attr('fill', '#800080').text(rsiLast);
    svg.append('text').attr('x', 8).attr('y', 955).attr('font-family', '"Open Sans", sans-serif').attr('font-size', 27)
      .attr('fill', '#2ea6f2').attr('stroke', '#fff').attr('stroke-width', 3).attr('paint-order', 'stroke')
      .text('Chart by TradingView');

    // axis frame
    svg.append('line').attr('x1', 0).attr('x2', 2354).attr('y1', mainBottom).attr('y2', mainBottom).attr('stroke', AXIS).attr('stroke-width', 2.5);
    svg.append('line').attr('x1', 0).attr('x2', axisX).attr('y1', rsiBottom).attr('y2', rsiBottom).attr('stroke', AXIS).attr('stroke-width', 2.5);
    svg.append('line').attr('x1', axisX).attr('x2', axisX).attr('y1', 0).attr('y2', rsiBottom).attr('stroke', AXIS).attr('stroke-width', 2.5);

    // price ticks
    const mainAxis = svg.append('g').attr('clip-path', 'url(#main-axis)');
    priceTicks.forEach(t => {
      mainAxis.append('line').attr('x1', axisX).attr('x2', axisX + 7).attr('y1', y(t)).attr('y2', y(t)).attr('stroke', AXIS).attr('stroke-width', 2);
      mainAxis.append('text').attr('x', 2251).attr('y', y(t) + 9).attr('font-family', FONT).attr('font-size', 22)
        .attr('fill', LABEL).text(t.toFixed(2));
    });
    const rsiAxis = svg.append('g').attr('clip-path', 'url(#rsi-axis)');
    rsiTicks.forEach(t => {
      rsiAxis.append('line').attr('x1', axisX).attr('x2', axisX + 7).attr('y1', yRsi(t)).attr('y2', yRsi(t)).attr('stroke', AXIS).attr('stroke-width', 2);
      rsiAxis.append('text').attr('x', 2251).attr('y', yRsi(t) + 9).attr('font-family', FONT).attr('font-size', 22)
        .attr('fill', LABEL).text(t.toFixed(4));
    });

    // labels of the levels, 51000 is pushed up by the last price box
    const priceBoxY = y(lastPrice) - 15;
    const box = (top: number, fill: string, label: string) => {
      svg.append('rect').attr('x', axisX).attr('y', top).attr('width', 111).attr('height', 32).attr('fill', fill);
      svg.append('text').attr('x', 2251).attr('y', top + 24).attr('font-family', FONT).attr('font-size', 22)
        .attr('fill', '#fff').text(label);
    };
    levelPrices.forEach(p => box(p === 51000 ? priceBoxY - 32 : y(p) - 15, LEVEL, p.toFixed(2)));
    box(priceBoxY, DOWN, lastPrice.toFixed(2));

    // time axis
    timeTickBars.forEach((b, i) => {
      svg.append('line').attr('x1', x(b)).attr('x2', x(b)).attr('y1', rsiBottom).attr('y2', rsiBottom + 7)
        .attr('stroke', AXIS).attr('stroke-width', 2);
      const isYear = /^\d+$/.test(timeTickLabels[i]);
      svg.append('text').attr('x', x(b)).attr('y', 1035).attr('text-anchor', 'middle')
        .attr('font-family', FONT).attr('font-size', isYear ? 21 : 19)
        .attr('font-weight', isYear ? 'bold' : 'normal')
        .attr('fill', LABEL).text(timeTickLabels[i]);
    });
  }, []);

  return (
    <svg
      ref={svgRef}
      width={2354}
      height={1039}
      style={{ position: 'absolute', left: 0, top: 0, display: 'block', background: '#fff' }}
    />
  );
};

export default App;
